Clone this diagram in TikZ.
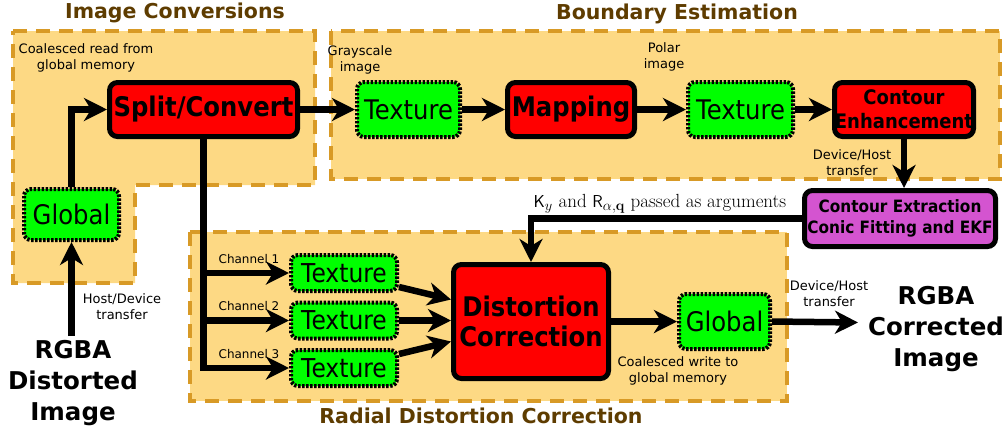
\documentclass[tikz,border=0pt]{standalone}
\usepackage[no-math]{fontspec}
\newfontfamily\dvs{DejaVu Sans}
\newfontfamily\dvc[FakeStretch=0.9]{DejaVu Sans}
\usetikzlibrary{arrows.meta,calc}

\definecolor{zonefill}{RGB}{253,217,132}
\definecolor{zoneline}{RGB}{216,154,38}
\definecolor{headbrown}{RGB}{94,60,0}
\definecolor{procred}{RGB}{255,0,0}
\definecolor{memgreen}{RGB}{0,255,0}
\definecolor{hostpurple}{RGB}{212,84,208}

\begin{document}
\begin{tikzpicture}[x=1pt,y=-1pt,
  zone/.style={fill=zonefill, draw=zoneline, line width=4pt, dash pattern=on 14pt off 9pt},
  zonetitle/.style={font=\dvs\bfseries\fontsize{20.5}{24}\selectfont, text=headbrown},
  proc/.style={draw, line width=5pt, fill=procred, rounded corners=8pt, inner sep=0pt,
    align=center, font=\dvc\bfseries\fontsize{27}{30}\selectfont},
  mem/.style={draw, line width=4pt, dash pattern=on 2.4pt off 1.6pt, fill=memgreen,
    rounded corners=7pt, inner sep=0pt, font=\dvc\fontsize{27}{30}\selectfont},
  note/.style={font=\dvs\fontsize{13}{16}\selectfont, align=center, inner sep=0pt},
  chan/.style={font=\dvs\fontsize{12}{14}\selectfont, inner sep=0pt},
  bigtext/.style={font=\dvs\bfseries\fontsize{24.5}{31}\selectfont, align=center, inner sep=0pt},
  flow/.style={line width=6.5pt, -{Stealth[length=23pt,width=23pt,inset=7pt]}}
]
\useasboundingbox (0,0) rectangle (1008,432);

% processing zones
\path[zone] (13,31) -- (315,31) -- (315,185) -- (135,185) -- (135,283) -- (13,283) -- cycle;
\path[zone] (331,31) rectangle (1000,179);
\path[zone] (190,232) rectangle (787,401);

\node[zonetitle] (t-ic) at (175,13) {Image Conversions};
\node[zonetitle] (t-be) at (677,14) {Boundary Estimation};
\node[zonetitle] (t-rd) at (481,416) {Radial Distortion Correction};

% kernels and memories
\node[proc, minimum width=188pt, minimum height=54pt] (split) at (203.5,109.5) {Split/Convert};
\node[mem, minimum width=95pt, minimum height=51pt] (gin) at (71.5,214.5) {Global};
\node[mem, minimum width=103pt, minimum height=55pt] (tgray) at (408.5,109.5) {Texture};
\node[proc, minimum width=127pt, minimum height=54pt] (map) at (571,109.5) {Mapping};
\node[mem, minimum width=105pt, minimum height=55pt] (tpolar) at (740.5,109.5) {Texture};
\node[proc, minimum width=139pt, minimum height=54pt,
  font=\dvc\bfseries\fontsize{20}{24}\selectfont] (enh) at (904,109.5) {Contour\\Enhancement};
\node[proc, fill=hostpurple, minimum width=191pt, minimum height=56pt,
  font=\dvc\bfseries\fontsize{17}{21}\selectfont] (ekf) at (900,218.5) {Contour Extraction\\Conic Fitting and EKF};
\node[mem, minimum width=106pt, minimum height=36pt, font=\dvc\fontsize{26}{30}\selectfont] (tc1) at (344,273) {Texture};
\node[mem, minimum width=106pt, minimum height=36pt, font=\dvc\fontsize{26}{30}\selectfont] (tc2) at (344,320.5) {Texture};
\node[mem, minimum width=106pt, minimum height=36pt, font=\dvc\fontsize{26}{30}\selectfont] (tc3) at (344,368) {Texture};
\node[proc, minimum width=155pt, minimum height=114pt] (dc) at (531,321.5) {Distortion\\Correction};
\node[mem, minimum width=91pt, minimum height=55pt] (gout) at (724.5,321.5) {Global};

% annotations
\node[note] (n-read) at (86,58) {Coalesced read from\\global memory};
\node[note] (n-gray) at (360,60) {Grayscale\\image};
\node[note] (n-polar) at (664,57) {Polar\\image};
\node[note] (n-dh1) at (852,163) {Device/Host\\transfer};
\node[note, font=\fontsize{19}{22}\selectfont] (n-args) at (660,204)
  {$\mathsf{K}_y$ and $\mathsf{R}_{\alpha,\mathbf{q}}$ passed as arguments};
\node[chan] (c1) at (249,259) {Channel 1};
\node[chan] (c2) at (249,306) {Channel 2};
\node[chan] (c3) at (249,354) {Channel 3};
\node[note] (n-hd) at (122,307) {Host/Device\\transfer};
\node[note] (n-dh2) at (829,294) {Device/Host\\transfer};
\node[note] (n-write) at (678,371) {Coalesced write to\\global memory};
\node[bigtext] (src) at (73,383) {RGBA\\Distorted\\Image};
\node[bigtext] (dst) at (936,329) {RGBA\\Corrected\\Image};

% data flow
\coordinate (instart) at (71.5,336);
\coordinate (outend) at (858,322.5);
\draw[flow] (instart) -- (gin.south);
\draw[flow] (gin.north) |- (split.west);
\draw[flow] (split.east) -- (tgray.west);
\draw[flow] (tgray.east) -- (map.west);
\draw[flow] (map.east) -- (tpolar.west);
\draw[flow] (tpolar.east) -- (enh.west);
\draw[flow] (enh.south) -- (enh.south |- ekf.north);
\draw[flow] (ekf.west) -| (dc.north);
\draw[flow] (split.south) |- (tc3.west);
\draw[flow] (split.south |- tc1.west) -- (tc1.west);
\draw[flow] (split.south |- tc2.west) -- (tc2.west);
\draw[flow] ($(tc1.east)+(0,14)$) -- ($(dc.west)+(0,-22)$);
\draw[flow] (tc2.east) -- (tc2.east -| dc.west);
\draw[flow] ($(tc3.east)+(0,-14)$) -- ($(dc.west)+(0,20)$);
\draw[flow] (dc.east) -- (gout.west);
\draw[flow] (gout.east) -- (outend);
\end{tikzpicture}
\end{document}
